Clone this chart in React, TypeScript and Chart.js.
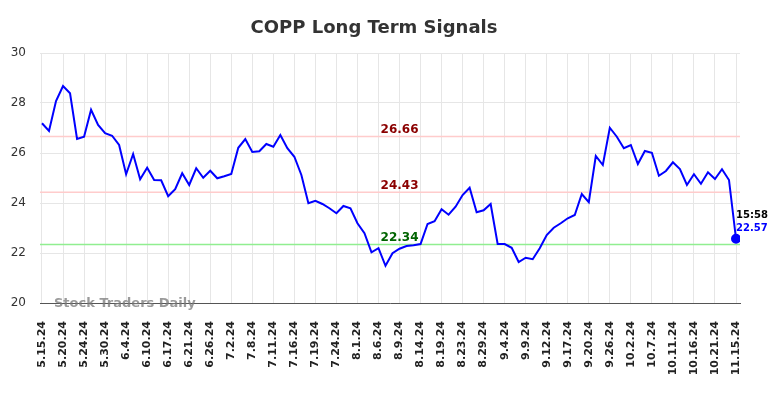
import React, { useEffect, useRef } from "react";
import { Chart, registerables } from "chart.js";

Chart.register(...registerables);

const TITLE = "COPP Long Term Signals";
const TICK_STEP = 3;
const tickLabels = [
  "5.15.24", "5.20.24", "5.24.24", "5.30.24", "6.4.24", "6.10.24", "6.17.24", "6.21.24",
  "6.26.24", "7.2.24", "7.8.24", "7.11.24", "7.16.24", "7.19.24", "7.24.24", "8.1.24",
  "8.6.24", "8.9.24", "8.14.24", "8.19.24", "8.23.24", "8.29.24", "9.4.24", "9.9.24",
  "9.12.24", "9.17.24", "9.20.24", "9.26.24", "10.2.24", "10.7.24", "10.11.24", "10.16.24",
  "10.21.24", "11.15.24",
];
const prices = [
  27.19, 26.88, 28.08, 28.68, 28.39, 26.56, 26.65, 27.73, 27.12, 26.79,
  26.69, 26.32, 25.15, 25.96, 24.95, 25.41, 24.92, 24.91, 24.27, 24.55,
  25.19, 24.72, 25.39, 25.01, 25.29, 24.99, 25.07, 25.16, 26.21, 26.56,
  26.04, 26.07, 26.36, 26.25, 26.72, 26.19, 25.85, 25.12, 23.99, 24.09,
  23.96, 23.79, 23.59, 23.88, 23.79, 23.19, 22.79, 22.03, 22.19, 21.49,
  21.99, 22.17, 22.28, 22.31, 22.36, 23.16, 23.27, 23.75, 23.53, 23.85,
  24.32, 24.61, 23.63, 23.71, 23.96, 22.36, 22.36, 22.21, 21.64, 21.81,
  21.75, 22.19, 22.72, 23.01, 23.19, 23.39, 23.52, 24.36, 24.03, 25.88,
  25.52, 27.01, 26.65, 26.19, 26.32, 25.56, 26.08, 26.01, 25.09, 25.28,
  25.63, 25.36, 24.72, 25.15, 24.77, 25.23, 24.96, 25.35, 24.92, 22.57,
];
const resistanceHigh = 26.66;
const resistanceLow = 24.43;
const supportLevel = 22.34;
const lastTime = "15:58";
const lastValue = "22.57";
const yTicks = [20, 22, 24, 26, 28, 30];
const WATERMARK = "Stock Traders Daily";

const FONT = "'DejaVu Sans', sans-serif";

const overlayPlugin = {
  id: "overlay",
  beforeDatasetsDraw(chart: any) {
    const { ctx, chartArea, scales } = chart;
    const y = scales.y;
    const levels = [
      { v: resistanceHigh, line: "#ffcccc", text: "#8b0000" },
      { v: resistanceLow, line: "#ffcccc", text: "#8b0000" },
      { v: supportLevel, line: "#90ee90", text: "#006400" },
    ];
    ctx.save();
    const cx = scales.x.getPixelForValue(51);
    levels.forEach((l) => {
      const py = y.getPixelForValue(l.v);
      ctx.strokeStyle = l.line;
      ctx.lineWidth = 1.5;
      ctx.beginPath();
      ctx.moveTo(chartArea.left, py);
      ctx.lineTo(chartArea.right, py);
      ctx.stroke();
      ctx.fillStyle = l.text;
      ctx.font = `bold 12px ${FONT}`;
      ctx.textAlign = "center";
      ctx.textBaseline = "alphabetic";
      ctx.fillText(l.v.toFixed(2), cx, py - 3.5);
    });
    ctx.restore();
  },
  afterDraw(chart: any) {
    const { ctx, chartArea, scales } = chart;
    ctx.save();
    // title
    ctx.fillStyle = "#333333";
    ctx.font = `bold 18px ${FONT}`;
    ctx.textAlign = "center";
    ctx.textBaseline = "alphabetic";
    ctx.fillText(TITLE, 374, 33);
    // watermark
    ctx.fillStyle = "rgba(120,120,120,0.75)";
    ctx.font = `bold 13px ${FONT}`;
    ctx.textAlign = "left";
    ctx.fillText(WATERMARK, chartArea.left + 14, chartArea.bottom + 4);
    // last point labels
    const lastIdx = prices.length - 1;
    const px = scales.x.getPixelForValue(lastIdx);
    const py = scales.y.getPixelForValue(prices[lastIdx]);
    ctx.font = `bold 10px ${FONT}`;
    ctx.fillStyle = "#000000";
    ctx.fillText(lastTime, px, py - 21);
    ctx.fillStyle = "#0000ff";
    ctx.fillText(lastValue, px, py - 8);
    ctx.restore();
  },
};

export default function App() {
  const ref = useRef<HTMLCanvasElement | null>(null);
  useEffect(() => {
    document.body.style.margin = "0";
    const canvas = ref.current;
    if (!canvas) return;
    const lastIdx = prices.length - 1;
    const chart = new Chart(canvas, {
      type: "line",
      data: {
        datasets: [
          {
            data: prices.map((v, i) => ({ x: i, y: v })),
            borderColor: "#0000ff",
            backgroundColor: "#0000ff",
            borderWidth: 2,
            tension: 0,
            pointRadius: (c: any) => (c.dataIndex === lastIdx ? 4 : 0),
            pointHoverRadius: 0,
          },
        ],
      },
      plugins: [overlayPlugin],
      options: {
        animation: false,
        responsive: false,
        devicePixelRatio: 1,
        events: [],
        layout: { padding: { top: 53, right: 44, left: 0, bottom: 0 } },
        plugins: { legend: { display: false }, title: { display: false }, tooltip: { enabled: false } },
        scales: {
          x: {
            type: "linear",
            min: -0.285,
            max: 99.57,
            afterFit: (s: any) => { s.height = 95; },
            afterBuildTicks: (s: any) => {
              s.ticks = tickLabels.map((_, i) => ({ value: i * TICK_STEP }));
            },
            grid: { color: "#e6e6e6", lineWidth: 1, drawTicks: false },
            border: { display: true, color: "#555555", width: 1 },
            ticks: {
              autoSkip: false,
              maxRotation: 90,
              minRotation: 90,
              padding: 18,
              color: "#222222",
              font: { family: FONT, size: 11, weight: "bold" },
              callback: (_v: any, i: number) => tickLabels[i],
            },
          },
          y: {
            min: 20,
            max: 30,
            afterFit: (s: any) => { s.width = 40; },
            afterBuildTicks: (s: any) => {
              s.ticks = yTicks.map((v) => ({ value: v }));
            },
            grid: { color: "#e6e6e6", lineWidth: 1, drawTicks: false },
            border: { display: false },
            ticks: {
              padding: 14,
              color: "#333333",
              font: { family: FONT, size: 12 },
            },
          },
        },
      },
    } as any);
    return () => chart.destroy();
  }, []);
  return <canvas ref={ref} width={784} height={398} style={{ display: "block", width: 784, height: 398 }} />;
}
